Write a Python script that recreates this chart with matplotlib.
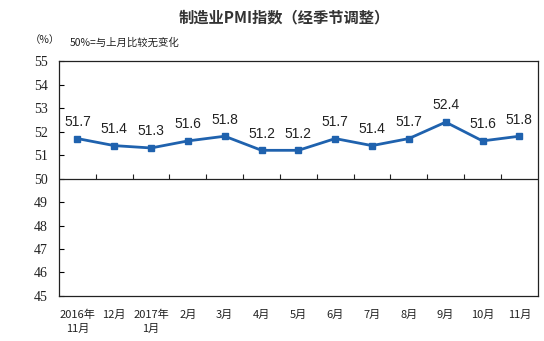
import matplotlib
matplotlib.use("Agg")
import matplotlib.pyplot as plt

plt.rcParams['font.family'] = ['Noto Sans CJK SC', 'DejaVu Sans']

categories = ["2016年\n11月", "12月", "2017年\n1月", "2月", "3月", "4月", "5月",
              "6月", "7月", "8月", "9月", "10月", "11月"]
values = [51.7, 51.4, 51.3, 51.6, 51.8, 51.2, 51.2, 51.7, 51.4, 51.7, 52.4, 51.6, 51.8]
yticks = [45, 46, 47, 48, 49, 50, 51, 52, 53, 54, 55]
baseline = 50

fig = plt.figure(figsize=(5.44, 3.41), dpi=100)
ax = fig.add_axes([0.1085, 0.132, 0.880, 0.689])

x = list(range(len(values)))
color = '#1F62AE'
ax.plot(x, values, color=color, lw=2.0, marker='s', markersize=5, zorder=3)
for xi, v in zip(x, values):
    ax.annotate(f"{v:.1f}", (xi, v), xytext=(0, 7), textcoords='offset points',
                ha='center', va='bottom', fontsize=10, family='Liberation Sans',
                color='#222222')

ax.set_xlim(-0.5, len(values) - 0.5)
ax.set_ylim(yticks[0], yticks[-1])
ax.tick_params(axis='y', direction='in', length=3.5, width=0.8, pad=8,
               labelsize=10, labelfontfamily='Liberation Serif', labelcolor='#222222')
ax.set_yticks(yticks)
ax.set_yticklabels([str(t) for t in yticks])

ax.tick_params(axis='x', length=0, pad=10, labelsize=8, labelcolor='#222222')
ax.set_xticks(x)
ax.set_xticklabels(categories, linespacing=1.4, va='top')

for s in ax.spines.values():
    s.set_color('#222222')
    s.set_linewidth(0.9)

# baseline at 50 with tick marks at category boundaries
ax.axhline(baseline, color='#222222', lw=0.9, zorder=2)
bounds = [i + 0.5 for i in range(len(values) - 1)]
ax.vlines(bounds, baseline, baseline + 0.18, color='#222222', lw=0.8, zorder=2)

fig.text(0.523, 0.95, "制造业PMI指数（经季节调整）", ha='center', va='center',
         fontsize=11, fontweight='bold', color='#333333')
fig.text(0.055, 0.883, "（%）", ha='left', va='center', fontsize=7.5, color='#222222')
fig.text(0.128, 0.875, "50%=与上月比较无变化", ha='left', va='center', fontsize=7.5,
         color='#222222')

fig.savefig("out.png", dpi=100)
